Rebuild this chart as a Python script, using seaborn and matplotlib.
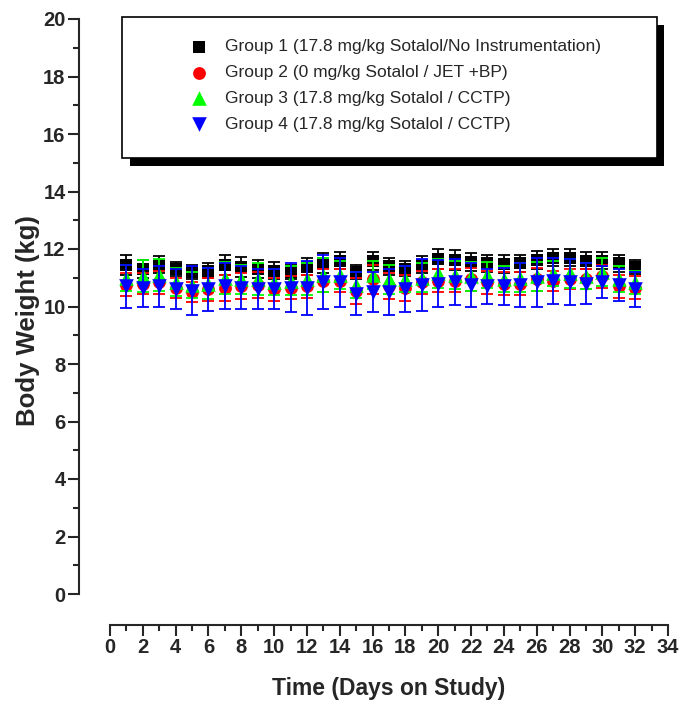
import matplotlib
matplotlib.use("Agg")
import matplotlib.pyplot as plt
import matplotlib.patheffects as pe
from matplotlib.patches import Rectangle
import seaborn as sns
import pandas as pd

# body weight (kg) per day, mean and SD per group
days = list(range(1, 33))
g1_mean = [11.45, 11.30, 11.45, 11.30, 11.20, 11.25, 11.45, 11.38, 11.30, 11.25, 11.20, 11.38,
           11.50, 11.60, 11.20, 11.58, 11.40, 11.32, 11.45, 11.65, 11.62, 11.55, 11.50, 11.48,
           11.50, 11.62, 11.70, 11.70, 11.60, 11.60, 11.50, 11.38]
g1_sd = [0.35, 0.30, 0.30, 0.25, 0.25, 0.25, 0.35, 0.35, 0.30, 0.30, 0.25, 0.30,
         0.35, 0.30, 0.25, 0.30, 0.30, 0.25, 0.30, 0.35, 0.35, 0.30, 0.30, 0.30,
         0.30, 0.30, 0.30, 0.30, 0.30, 0.30, 0.30, 0.25]
g2_mean = [10.75, 10.80, 10.85, 10.65, 10.50, 10.60, 10.65, 10.70, 10.75, 10.60, 10.65, 10.70,
           10.90, 10.90, 10.55, 10.95, 10.70, 10.65, 10.85, 10.90, 10.90, 10.95, 10.85, 10.80,
           10.80, 10.95, 10.90, 10.95, 10.95, 11.05, 10.70, 10.65]
g2_sd = [0.40, 0.35, 0.40, 0.35, 0.35, 0.40, 0.45, 0.45, 0.45, 0.40, 0.40, 0.40,
         0.40, 0.40, 0.45, 0.50, 0.45, 0.45, 0.40, 0.40, 0.40, 0.40, 0.40, 0.40,
         0.40, 0.40, 0.35, 0.35, 0.35, 0.40, 0.40, 0.40]
g3_mean = [11.00, 11.05, 11.10, 10.85, 10.75, 10.80, 11.00, 10.95, 10.95, 10.85, 10.90, 10.95,
           11.10, 11.10, 10.75, 11.10, 10.95, 10.95, 11.00, 11.15, 11.10, 11.05, 11.10, 10.95,
           11.00, 11.05, 11.15, 11.15, 11.05, 11.20, 10.95, 10.85]
g3_sd = [0.45, 0.55, 0.55, 0.50, 0.45, 0.55, 0.55, 0.50, 0.55, 0.45, 0.50, 0.55,
         0.60, 0.50, 0.45, 0.50, 0.50, 0.45, 0.50, 0.50, 0.50, 0.50, 0.45, 0.45,
         0.50, 0.50, 0.45, 0.50, 0.45, 0.50, 0.45, 0.40]
g4_mean = [10.70, 10.65, 10.70, 10.60, 10.55, 10.60, 10.70, 10.65, 10.60, 10.60, 10.65, 10.65,
           10.85, 10.85, 10.45, 10.50, 10.50, 10.60, 10.75, 10.80, 10.85, 10.75, 10.70, 10.70,
           10.75, 10.85, 10.90, 10.85, 10.80, 10.85, 10.75, 10.60]
g4_sd = [0.75, 0.65, 0.70, 0.70, 0.85, 0.75, 0.80, 0.75, 0.70, 0.70, 0.85, 0.95,
         0.95, 0.85, 0.75, 0.70, 0.80, 0.80, 0.90, 0.80, 0.80, 0.75, 0.60, 0.65,
         0.75, 0.85, 0.80, 0.80, 0.70, 0.55, 0.55, 0.60]

labels = ["Group 1 (17.8 mg/kg Sotalol/No Instrumentation)",
          "Group 2 (0 mg/kg Sotalol / JET +BP)",
          "Group 3 (17.8 mg/kg Sotalol / CCTP)",
          "Group 4 (17.8 mg/kg Sotalol / CCTP)"]
colors = ["black", "red", "#00ff00", "blue"]
markers = ["s", "o", "^", "v"]
sizes = [70, 85, 110, 110]

frames = []
for lab, m, s in zip(labels, [g1_mean, g2_mean, g3_mean, g4_mean], [g1_sd, g2_sd, g3_sd, g4_sd]):
    frames.append(pd.DataFrame({"day": days, "weight": m, "sd": s, "group": lab}))
df = pd.concat(frames, ignore_index=True)

sns.set_style("ticks")
plt.rcParams["font.family"] = ["Liberation Sans", "DejaVu Sans"]

fig = plt.figure(figsize=(6.83, 7.11), dpi=100)
ax = fig.add_axes([110 / 683, 1 - 594 / 711, 558 / 683, 575 / 711])

for i, lab in enumerate(labels):
    sub = df[df["group"] == lab]
    ax.errorbar(sub["day"], sub["weight"], yerr=sub["sd"], fmt="none", ecolor=colors[i],
                elinewidth=1.3, capsize=4, capthick=1.3, zorder=2 + 2 * i)
    sns.scatterplot(data=sub, x="day", y="weight", color=colors[i], marker=markers[i],
                    s=sizes[i], linewidth=0, label=lab, ax=ax, zorder=3 + 2 * i)

ax.set_xlim(0, 34)
ax.set_ylim(0, 20)
ax.set_xticks(range(0, 35, 2))
ax.set_xticks(range(0, 35), minor=True)
ax.set_yticks(range(0, 21, 2))
ax.set_yticks(range(0, 21), minor=True)
sns.despine(ax=ax, offset={"left": 22, "bottom": 22})
for sp in ["left", "bottom"]:
    ax.spines[sp].set_linewidth(1.5)
ax.tick_params(which="major", length=8, width=1.5, labelsize=14.5, pad=2)
ax.tick_params(which="minor", length=4, width=1.5)
for t in ax.get_xticklabels() + ax.get_yticklabels():
    t.set_fontweight("bold")

ax.set_xlabel("Time (Days on Study)", fontsize=16.5, fontweight="bold", labelpad=14)
ax.set_ylabel("Body Weight (kg)", fontsize=18.5, fontweight="bold")
ax.yaxis.set_label_coords(-0.125, 0.475)

# legend box with solid drop shadow
box = Rectangle((0.0215, 0.758), 0.9585, 0.2455, transform=ax.transAxes, facecolor="white",
                edgecolor="black", linewidth=1.2, clip_on=False, zorder=20)
box.set_path_effects([pe.SimplePatchShadow(offset=(5.5, -5.5), shadow_rgbFace="black", alpha=1),
                      pe.Normal()])
ax.add_patch(box)
ax.legend(loc="upper left", bbox_to_anchor=(79 / 558, 1 - 20 / 575), frameon=False,
          fontsize=12.5, borderpad=0, borderaxespad=0, handlelength=1.2, handletextpad=0.9,
          labelspacing=0.62).set_zorder(21)

fig.savefig("out.png", dpi=100)
